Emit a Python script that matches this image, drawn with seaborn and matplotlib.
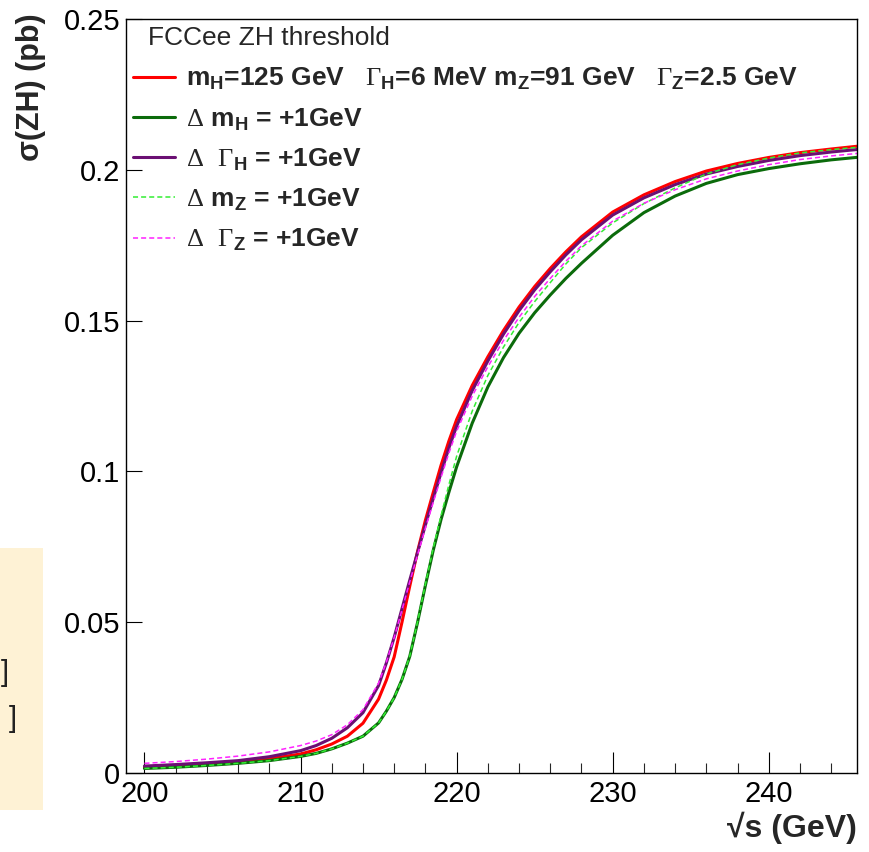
import matplotlib
matplotlib.use("Agg")
import matplotlib.pyplot as plt
from matplotlib.patches import Rectangle
from matplotlib.ticker import MultipleLocator
import seaborn as sns

# sqrt(s) grid (GeV)
sqrt_s = [200, 202, 204, 206, 208, 210, 211, 212, 213, 214,
          215, 215.5, 216, 216.5, 217, 217.5, 218, 218.5, 219, 219.5,
          220, 221, 222, 223, 224, 225, 226, 227, 228, 230,
          232, 234, 236, 238, 240, 242, 244, 246]

# sigma(ZH) in pb
xs_nominal = [0.0019, 0.0023, 0.0029, 0.0036, 0.0047, 0.0063, 0.0077, 0.0096, 0.0122, 0.0165,
              0.0245, 0.0308, 0.0385, 0.0500, 0.0620, 0.0735, 0.0838, 0.0930, 0.1020, 0.1100,
              0.1172, 0.1285, 0.1380, 0.1467, 0.1545, 0.1613, 0.1673, 0.1728, 0.1778, 0.1860,
              0.1917, 0.1961, 0.1996, 0.2021, 0.2041, 0.2057, 0.2069, 0.2080]
xs_dmH = [0.0015, 0.0019, 0.0025, 0.0032, 0.0041, 0.0055, 0.0065, 0.0080, 0.0099, 0.0122,
          0.0166, 0.0205, 0.0250, 0.0310, 0.0387, 0.0500, 0.0622, 0.0738, 0.0840, 0.0930,
          0.1015, 0.1160, 0.1280, 0.1377, 0.1458, 0.1526, 0.1585, 0.1640, 0.1690, 0.1783,
          0.1858, 0.1913, 0.1955, 0.1984, 0.2004, 0.2020, 0.2033, 0.2043]
xs_dGH = [0.0023, 0.0028, 0.0034, 0.0041, 0.0054, 0.0074, 0.0091, 0.0115, 0.0150, 0.0200,
          0.0290, 0.0365, 0.0450, 0.0545, 0.0640, 0.0732, 0.0822, 0.0910, 0.0995, 0.1077,
          0.1150, 0.1268, 0.1366, 0.1455, 0.1533, 0.1602, 0.1662, 0.1718, 0.1768, 0.1850,
          0.1907, 0.1951, 0.1986, 0.2011, 0.2031, 0.2047, 0.2059, 0.2069]
xs_dmZ = [0.0015, 0.0019, 0.0025, 0.0032, 0.0041, 0.0055, 0.0065, 0.0080, 0.0099, 0.0122,
          0.0166, 0.0205, 0.0250, 0.0310, 0.0388, 0.0502, 0.0626, 0.0745, 0.0853, 0.0955,
          0.1050, 0.1200, 0.1318, 0.1412, 0.1494, 0.1563, 0.1626, 0.1688, 0.1742, 0.1824,
          0.1888, 0.1940, 0.1986, 0.2017, 0.2039, 0.2056, 0.2067, 0.2076]
xs_dGZ = [0.0032, 0.0038, 0.0046, 0.0056, 0.0070, 0.0091, 0.0106, 0.0127, 0.0160, 0.0210,
          0.0298, 0.0368, 0.0449, 0.0541, 0.0634, 0.0724, 0.0812, 0.0897, 0.0980, 0.1060,
          0.1133, 0.1250, 0.1347, 0.1434, 0.1511, 0.1580, 0.1640, 0.1697, 0.1748, 0.1830,
          0.1889, 0.1934, 0.1970, 0.1996, 0.2017, 0.2034, 0.2046, 0.2056]

labels = [
    r"m$_\mathbf{H}$=125 GeV   $\mathsf{\Gamma}_\mathbf{H}$=6 MeV m$_\mathbf{Z}$=91 GeV   "
    r"$\mathsf{\Gamma}_\mathbf{Z}$=2.5 GeV",
    r"$\mathsf{\Delta}$ m$_\mathbf{H}$ = +1GeV",
    r"$\mathsf{\Delta}$  $\mathsf{\Gamma}_\mathbf{H}$ = +1GeV",
    r"$\mathsf{\Delta}$ m$_\mathbf{Z}$ = +1GeV",
    r"$\mathsf{\Delta}$  $\mathsf{\Gamma}_\mathbf{Z}$ = +1GeV",
]

sns.set_theme(style="ticks")
plt.rcParams["font.family"] = ["Liberation Sans", "DejaVu Sans"]
plt.rcParams["mathtext.fontset"] = "custom"
plt.rcParams["mathtext.rm"] = "Liberation Sans"
plt.rcParams["mathtext.bf"] = "Liberation Sans:bold"
plt.rcParams["mathtext.sf"] = "Liberation Serif"

fig = plt.figure(figsize=(8.7, 8.52), dpi=100)
ax = fig.add_axes([125.7 / 870, 1 - 773 / 852, (857 - 125.7) / 870, (773 - 19) / 852])

styles = [
    (xs_nominal, "#ff0000", "-", 2.2),
    (xs_dmH, "#0b6b0b", "-", 2.2),
    (xs_dGH, "#6b0f73", "-", 2.2),
    (xs_dmZ, "#33ee33", (0, (3.3, 2.0)), 1.1),
    (xs_dGZ, "#ff22ff", (0, (3.3, 2.0)), 1.1),
]
for (ys, col, ls, lw), lab in zip(styles, labels):
    sns.lineplot(x=sqrt_s, y=ys, color=col, linestyle=ls, linewidth=lw,
                 ax=ax, label=lab, legend=False)

ax.set_xlim(198.8, 245.65)
ax.set_ylim(0, 0.25)
ax.set_xticks([200, 210, 220, 230, 240])
ax.xaxis.set_minor_locator(MultipleLocator(2))
ax.set_yticks([0, 0.05, 0.1, 0.15, 0.2, 0.25])
ax.set_yticklabels(["0", "0.05", "0.1", "0.15", "0.2", "0.25"])
ax.tick_params(axis="both", which="major", direction="in", labelsize=21,
               width=0.8, color="black", labelcolor="black")
ax.tick_params(axis="x", which="major", length=15, pad=5)
ax.tick_params(axis="x", which="minor", direction="in", length=7, width=0.8)
ax.tick_params(axis="y", which="major", length=11.5, pad=4)
for sp in ax.spines.values():
    sp.set_color("black")
    sp.set_linewidth(1.0)

ax.set_xlabel("√s (GeV)", fontsize=23, fontweight="bold", loc="right", labelpad=3)
fig.text(31 / 870, 1 - 13 / 852, "σ(ZH) (pb)", rotation=90, ha="center", va="top",
         fontsize=22, fontweight="bold")

ax.text((148 - 125.7) / 731.3, (773 - 38) / 754, "FCCee ZH threshold",
        transform=ax.transAxes, fontsize=19, va="center", ha="left")
leg = ax.legend(loc="upper left", bbox_to_anchor=(133 / 870, 1 - 66 / 852),
                bbox_transform=fig.transFigure, frameon=False, borderpad=0,
                borderaxespad=0, handlelength=1.6, handletextpad=0.4,
                labelspacing=0.52, prop={"size": 19, "weight": "bold"})

# stray panel fragment at the left edge
fig.patches.append(Rectangle((0, 1 - 810 / 852), 43 / 870, (810 - 548) / 852,
                             transform=fig.transFigure, facecolor="#fef2d5",
                             edgecolor="none", zorder=0))
fig.text(9 / 870, 1 - 673 / 852, "]", ha="right", va="center", fontsize=21, color="#222222")
fig.text(17 / 870, 1 - 719 / 852, "]", ha="right", va="center", fontsize=21, color="#222222")

fig.savefig("out.png", dpi=100)
